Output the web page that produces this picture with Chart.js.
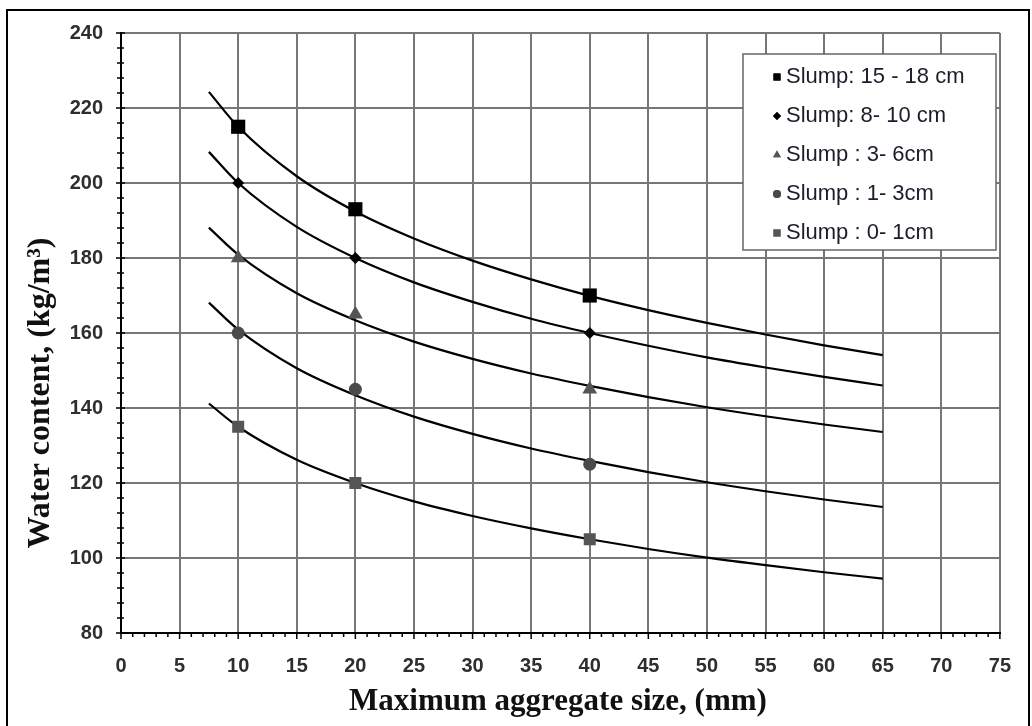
<!DOCTYPE html>
<html>
<head>
<meta charset="utf-8">
<script src="https://cdn.jsdelivr.net/npm/chart.js@4"></script>
<style>
  body { margin: 0; background: #fff; }
  #wrap { width: 1032px; height: 726px; position: relative; }
</style>
</head>
<body>
<div id="wrap"><canvas id="waterChart"></canvas></div>
<script>
// measured points (max aggregate size, mm -> water content, kg/m3)
const sizes = [10, 20, 40];
const slump15to18 = [215, 193, 170];
const slump8to10 = [200, 180, 160];
const slump3to6 = [180, 165, 145];
const slump1to3 = [160, 145, 125];
const slump0to1 = [135, 120, 105];

// trend curves
const curveSizes = [7.5, 10, 15, 20, 25, 30, 35, 40, 45, 50, 55, 60, 65];
const curve15to18 = [224.3, 215.0, 201.8, 192.4, 185.2, 179.3, 174.3, 169.9, 166.1, 162.7, 159.6, 156.7, 154.1];
const curve8to10 = [208.3, 200.0, 188.3, 180.0, 173.5, 168.3, 163.8, 160.0, 156.6, 153.5, 150.8, 148.3, 146.0];
const curve3to6 = [188.1, 180.9, 170.6, 163.4, 157.7, 153.1, 149.2, 145.9, 142.9, 140.2, 137.8, 135.6, 133.6];
const curve1to3 = [168.1, 160.9, 150.6, 143.4, 137.7, 133.1, 129.2, 125.9, 122.9, 120.2, 117.8, 115.6, 113.6];
const curve0to1 = [141.2, 135.0, 126.2, 120.0, 115.1, 111.2, 107.9, 105.0, 102.4, 100.1, 98.1, 96.2, 94.5];

const labels = ['Slump: 15 - 18 cm', 'Slump: 8- 10 cm', 'Slump : 3- 6cm', 'Slump : 1- 3cm', 'Slump : 0- 1cm'];

const toXY = (xs, ys) => xs.map((x, i) => ({ x: x, y: ys[i] }));

const markerSets = [
    { label: labels[0], data: toXY(sizes, slump15to18), pointStyle: 'rect', pointRadius: 10, color: '#000000', legendRadius: 5 },
    { label: labels[1], data: toXY(sizes, slump8to10), pointStyle: 'rectRot', pointRadius: 6, color: '#000000', legendRadius: 4 },
    { label: labels[2], data: toXY(sizes, slump3to6), pointStyle: 'triangle', pointRadius: 8.5, color: '#555555', legendRadius: 4.5 },
    { label: labels[3], data: toXY(sizes, slump1to3), pointStyle: 'circle', pointRadius: 6.5, color: '#4a4a4a', legendRadius: 4 },
    { label: labels[4], data: toXY(sizes, slump0to1), pointStyle: 'rect', pointRadius: 8.5, color: '#555555', legendRadius: 5 },
];

const curveSets = [curve15to18, curve8to10, curve3to6, curve1to3, curve0to1].map(c => ({
    label: 'trend',
    data: toXY(curveSizes, c),
    showLine: true,
    borderColor: '#000',
    borderWidth: 2.2,
    pointRadius: 0,
    cubicInterpolationMode: 'monotone',
    isCurve: true,
}));

const datasets = markerSets.map(m => ({
    label: m.label,
    data: m.data,
    showLine: false,
    pointStyle: m.pointStyle,
    pointRadius: m.pointRadius,
    backgroundColor: m.color,
    borderColor: m.color,
    borderWidth: 0,
    legendRadius: m.legendRadius,
})).concat(curveSets);

const decorPlugin = {
    id: 'decor',
    afterDraw(chart) {
        const ctx = chart.ctx;
        const xs = chart.scales.x, ys = chart.scales.y;
        ctx.save();

        // outer frame
        ctx.strokeStyle = '#000';
        ctx.lineWidth = 2;
        ctx.strokeRect(7, 10, 1022, 722);

        // minor / major ticks
        ctx.lineWidth = 1.5;
        ctx.beginPath();
        for (let v = 80; v <= 240; v += 4) {
            const py = ys.getPixelForValue(v);
            const major = v % 20 === 0;
            ctx.moveTo(xs.left - (major ? 5 : 4), py);
            ctx.lineTo(xs.left + (major ? 4 : 3), py);
        }
        for (let v = 0; v <= 75; v += 1) {
            const px = xs.getPixelForValue(v);
            const major = v % 5 === 0;
            ctx.moveTo(px, ys.bottom);
            ctx.lineTo(px, ys.bottom + (major ? 6 : 4));
        }
        ctx.stroke();

        // legend box
        const lx = 743, ly = 54, lw = 253, lh = 196;
        ctx.fillStyle = '#fff';
        ctx.fillRect(lx, ly, lw, lh);
        ctx.strokeStyle = '#666';
        ctx.lineWidth = 1.5;
        ctx.strokeRect(lx, ly, lw, lh);
        ctx.font = '22px "Liberation Sans", Arial, sans-serif';
        ctx.textBaseline = 'middle';
        ctx.textAlign = 'left';
        chart.data.datasets.filter(d => !d.isCurve).forEach((d, i) => {
            const cy = ly + 23 + i * 39;
            ctx.fillStyle = d.backgroundColor;
            ctx.strokeStyle = d.backgroundColor;
            Chart.helpers.drawPoint(ctx, { pointStyle: d.pointStyle, radius: d.legendRadius, borderWidth: 0 }, 777, cy);
            ctx.fill();
            ctx.fillStyle = '#1c1c2a';
            ctx.fillText(d.label, 786, cy);
        });

        // axis titles
        ctx.fillStyle = '#111';
        ctx.textAlign = 'center';
        ctx.textBaseline = 'middle';
        ctx.font = 'bold 31px "Liberation Serif", "Times New Roman", serif';
        ctx.fillText('Maximum aggregate size, (mm)', 558, 702);
        ctx.font = 'bold 32px "Liberation Serif", "Times New Roman", serif';
        ctx.translate(41, 393);
        ctx.rotate(-Math.PI / 2);
        ctx.fillText('Water content, (kg/m\u00B3)', 0, 0);
        ctx.restore();
    }
};

const tickFont = { family: '"Liberation Sans", Arial, sans-serif', size: 20, weight: 'bold' };

new Chart(document.getElementById('waterChart'), {
    type: 'scatter',
    data: { datasets: datasets },
    options: {
        responsive: true,
        maintainAspectRatio: false,
        animation: false,
        layout: { padding: { top: 33, right: 20, left: 0, bottom: 0 } },
        plugins: { legend: { display: false }, tooltip: { enabled: false } },
        scales: {
            x: {
                type: 'linear',
                min: 0,
                max: 75,
                ticks: { stepSize: 5, padding: 21, color: '#2e2e2e', font: tickFont },
                grid: { color: '#777777', lineWidth: 2, drawTicks: false },
                border: { color: '#000', width: 2 },
                afterFit(scale) { scale.height = 93; }
            },
            y: {
                min: 80,
                max: 240,
                ticks: { stepSize: 20, padding: 18, color: '#2e2e2e', font: tickFont },
                grid: { color: '#777777', lineWidth: 2, drawTicks: false },
                border: { color: '#000', width: 2 },
                afterFit(scale) { scale.width = 121; }
            }
        }
    },
    plugins: [decorPlugin]
});
</script>
</body>
</html>
